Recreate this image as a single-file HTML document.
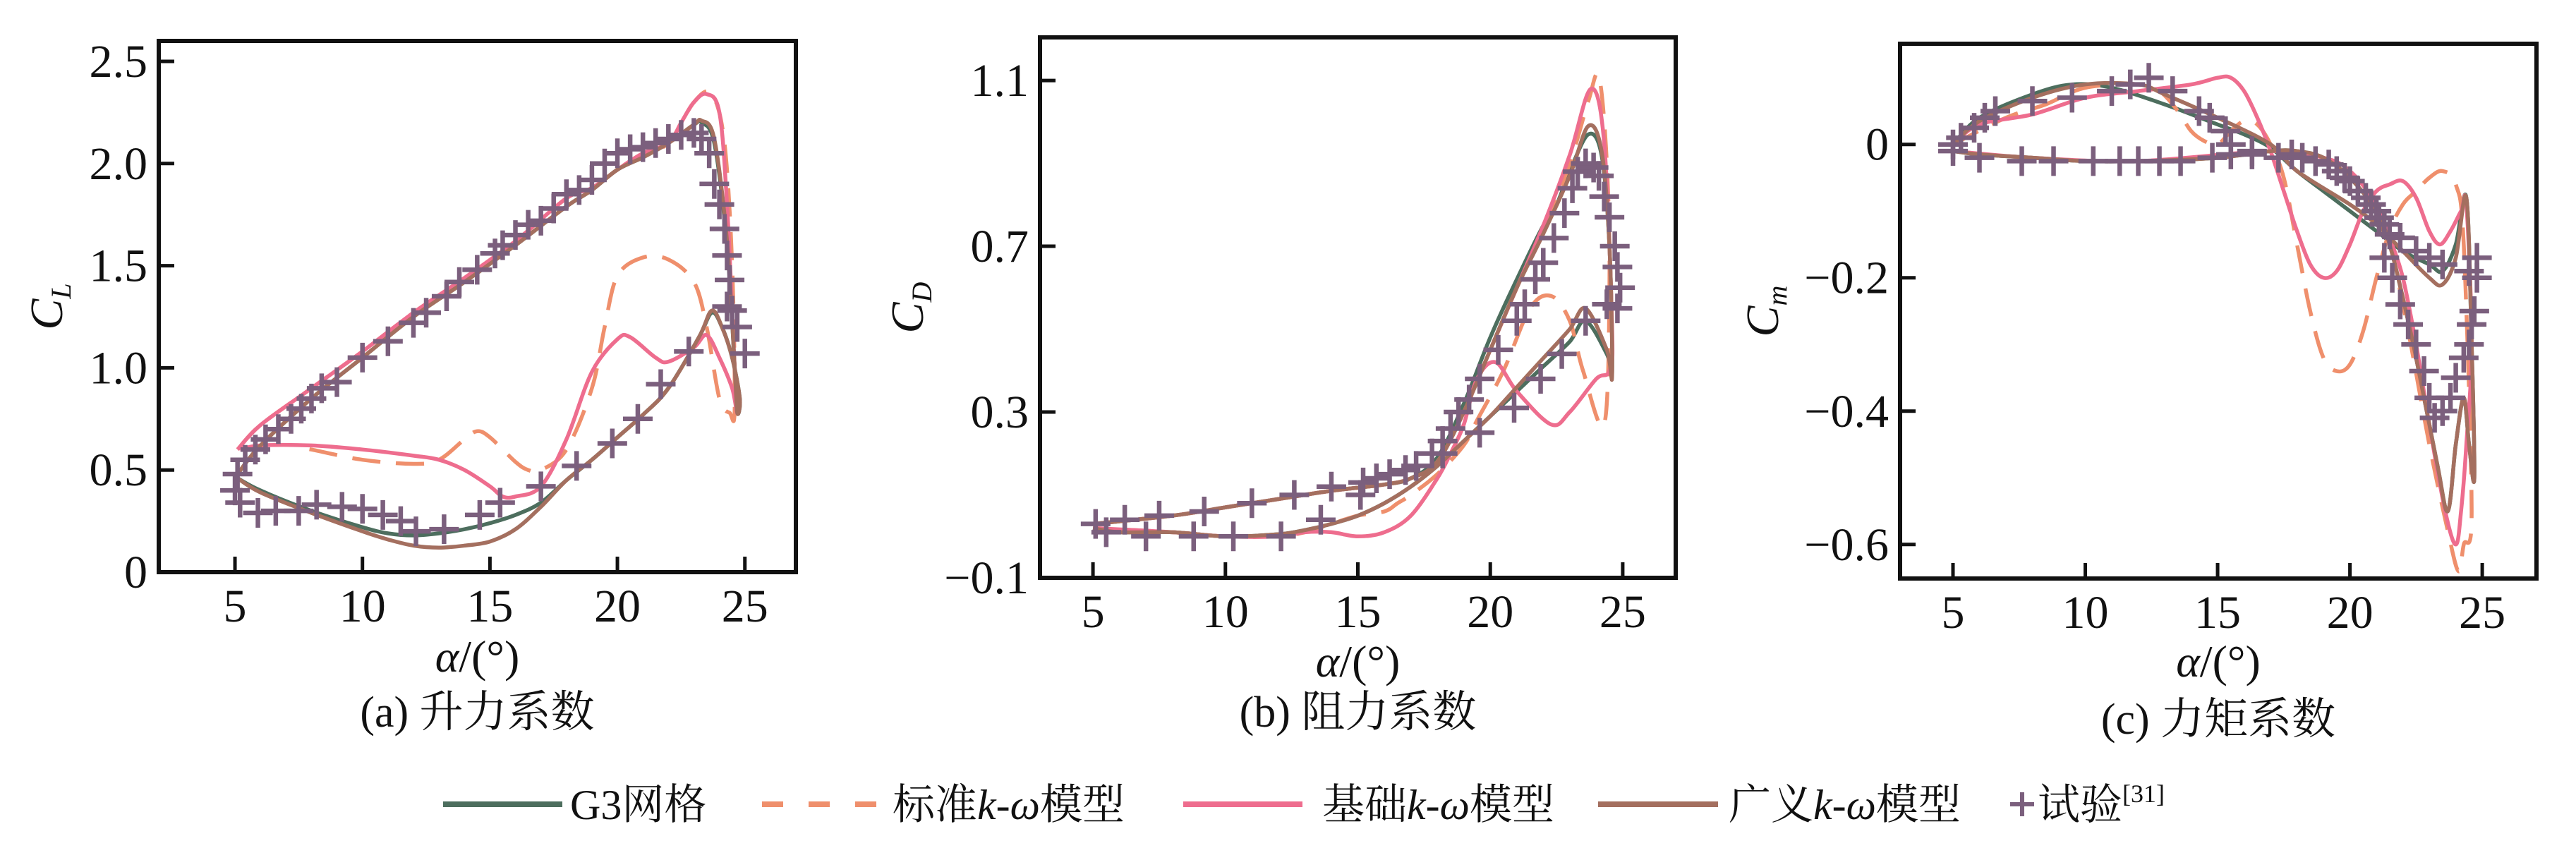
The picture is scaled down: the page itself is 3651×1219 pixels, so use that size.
<!DOCTYPE html>
<html><head><meta charset="utf-8"><style>
html,body{margin:0;padding:0;background:#fff;}
svg{display:block;}
text{font-family:"Liberation Serif","Noto Serif CJK SC","Noto Sans CJK SC",serif;fill:#111;}
</style></head><body>
<svg id="fig" width="3651" height="1219" viewBox="0 0 3651 1219" xmlns="http://www.w3.org/2000/svg"></svg>
<script>
// ---------- Panel (a) lift coefficient ----------
const clG3A=[5.1,6,8,10,12,14,16,18,19,20,21,22,23,23.3,23.8,24.3,24.6,24.7,24.8,24.5,24.1,23.7,23.2,22,21,20,19,18,17,16,15,14,13,12,11,10,8,6,5.1];
const clG3V=[0.48,0.62,0.85,1.05,1.25,1.42,1.6,1.79,1.87,1.97,2.03,2.1,2.19,2.2,2.1,1.6,1.0,0.78,0.85,1.05,1.2,1.27,1.15,0.9,0.77,0.66,0.55,0.45,0.34,0.28,0.24,0.21,0.19,0.18,0.19,0.22,0.3,0.4,0.46];
const clGenA=[5.1,6,8,10,12,14,16,18,19,20,21,22,23,23.3,23.8,24.3,24.6,24.7,24.8,24.5,24.1,23.7,23.2,22,21,20,19,18,17,16,15,14,13,12,11,10,8,6,5.1];
const clGenV=[0.48,0.62,0.85,1.05,1.25,1.42,1.6,1.79,1.87,1.97,2.03,2.1,2.19,2.21,2.12,1.62,1.0,0.78,0.85,1.05,1.2,1.28,1.15,0.9,0.77,0.66,0.55,0.45,0.32,0.21,0.15,0.13,0.12,0.13,0.16,0.2,0.29,0.39,0.46];
const clBasA=[5.1,6,8,10,12,14,16,18,19,20,21,22,22.5,23,23.5,24,24.3,24.6,24.7,24.5,24,23.5,23,22,21.5,20.5,20,19,18,17,16,15.5,15,14,13,12,10,8,6,5.2];
const clBasV=[0.6,0.72,0.9,1.08,1.27,1.44,1.62,1.83,1.88,1.97,2.05,2.1,2.2,2.3,2.34,2.25,1.8,1.0,0.78,0.9,1.05,1.16,1.1,1.03,1.05,1.15,1.14,0.98,0.65,0.42,0.37,0.37,0.42,0.5,0.55,0.57,0.6,0.62,0.62,0.6];
const clStdA=[5.1,6,8,10,12,14,16,18,19,20,21,22,23,23.7,24.2,24.5,24.6,24.4,24,23.5,23,22,21,20,19.5,19,18,17,16.5,16,15,14.5,14,13,12,10,8,7.5];
const clStdV=[0.6,0.72,0.9,1.08,1.27,1.44,1.62,1.83,1.88,1.97,2.05,2.1,2.3,2.34,2.1,1.5,0.8,0.78,0.85,1.2,1.42,1.53,1.54,1.45,1.2,0.9,0.6,0.5,0.5,0.54,0.66,0.69,0.65,0.55,0.53,0.55,0.6,0.61];
const clExpA=[5.1,5.4,5.8,6.2,6.7,7.2,7.6,8.0,8.4,9,10,11,12,12.5,13.3,13.8,14.5,15.2,15.5,16,16.5,17,17.5,18,18.5,19,19.5,20,20.5,21,21.5,22,22.5,23,23.3,23.6,23.8,24,24.2,24.3,24.4,24.5,24.7,25,24.3,22.8,21.7,20.8,19.8,18.4,17,15.4,14.6,13.2,12.1,11.5,10.8,10,9.2,8.2,7.5,6.6,5.9,5.2,5];
const clExpV=[0.48,0.55,0.6,0.65,0.7,0.75,0.8,0.85,0.9,0.93,1.05,1.13,1.22,1.27,1.35,1.42,1.48,1.56,1.6,1.65,1.7,1.72,1.78,1.85,1.87,1.92,2.0,2.05,2.07,2.08,2.1,2.12,2.14,2.15,2.12,2.05,1.9,1.8,1.68,1.55,1.43,1.28,1.2,1.07,1.3,1.08,0.92,0.75,0.63,0.52,0.42,0.34,0.28,0.21,0.2,0.25,0.28,0.31,0.32,0.33,0.3,0.3,0.29,0.34,0.4];
const clYTicks=[0,0.5,1.0,1.5,2.0,2.5];
const clYLabels=["0","0.5","1.0","1.5","2.0","2.5"];
// ---------- Panel (b) drag coefficient ----------
const cdG3A=[5,8,10,12,14,16,17,18,19,20,21,22,22.5,23,23.7,24.2,24.5,24.6,24.4,23.6,23,22,21,20,19,18,17,16,15,14,13,12,10,8,6,5];
const cdG3V=[0.03,0.05,0.07,0.09,0.11,0.125,0.14,0.19,0.32,0.48,0.62,0.75,0.8,0.88,0.97,0.92,0.7,0.4,0.44,0.52,0.47,0.41,0.35,0.29,0.23,0.17,0.12,0.08,0.05,0.03,0.015,0.005,0.0,0.01,0.01,0.02];
const cdGenA=[5,8,10,12,14,16,17,18,19,20,21,22,23,23.7,24.2,24.5,24.6,24.4,23.6,23,22,21,20,19,18,17,16,15,14,13,12,10,8,6,5];
const cdGenV=[0.03,0.05,0.07,0.09,0.11,0.125,0.14,0.18,0.3,0.45,0.6,0.73,0.87,0.99,0.93,0.7,0.39,0.45,0.55,0.5,0.43,0.36,0.29,0.23,0.17,0.12,0.08,0.05,0.03,0.015,0.005,0.0,0.01,0.01,0.02];
const cdBasA=[5,8,10,12,14,16,17,18,19,20,21,22,23,23.8,24.3,24.6,24.5,24,23,22.3,21,20.2,19.5,19,18.5,18,17,16,15,14,13,12,10,8,5];
const cdBasV=[0.03,0.05,0.07,0.09,0.11,0.125,0.14,0.18,0.3,0.45,0.6,0.75,0.92,1.08,0.95,0.5,0.4,0.38,0.3,0.27,0.35,0.42,0.38,0.27,0.2,0.14,0.05,0.01,0.0,0.01,0.01,0.0,0.0,0.01,0.02];
const cdStdA=[5,8,10,12,14,16,17,18,19,20,21,22,23,23.7,24.1,24.4,24.5,24.3,23.5,23,22.3,21.5,20.5,19.5,19,18,17,16.5,16,15,14,13,12,10,8,5];
const cdStdV=[0.03,0.05,0.07,0.09,0.11,0.125,0.14,0.18,0.3,0.45,0.6,0.74,0.9,1.05,1.11,0.9,0.6,0.27,0.4,0.52,0.58,0.55,0.4,0.28,0.22,0.15,0.1,0.08,0.06,0.05,0.03,0.01,0.0,0.0,0.01,0.02];
const cdExpA=[5.1,6.2,7.5,9.2,11,12.6,14,15.2,15.7,16.2,16.8,17.2,17.8,18.2,18.5,18.8,19.2,19.6,20.3,21,21.3,21.7,22,22.4,22.8,23.1,23.3,23.6,23.9,24.1,24.3,24.5,24.7,24.8,24.9,24.8,24.4,23.6,22.7,21.9,20.9,19.6,18.2,15.1,13.6,12.1,10.3,8.8,7,5.5];
const cdExpV=[0.03,0.04,0.05,0.06,0.08,0.1,0.12,0.13,0.14,0.15,0.16,0.17,0.2,0.23,0.26,0.3,0.33,0.38,0.45,0.52,0.56,0.62,0.66,0.72,0.78,0.84,0.88,0.9,0.89,0.87,0.82,0.77,0.7,0.65,0.6,0.55,0.56,0.52,0.44,0.38,0.31,0.25,0.2,0.1,0.04,0.0,0.0,0.0,0.0,0.01];
const cdYTicks=[-0.1,0.3,0.7,1.1];
const cdYLabels=["\u22120.1","0.3","0.7","1.1"];
// ---------- Panel (c) moment coefficient ----------
const cmG3A=[5,6,8,9.5,11,13,15,16,17,18,19,20,21,22,23,23.5,24,24.4,24.6,24.7,24.5,24.3,24,23.7,23.3,22.5,22,21.5,21,20,19,18,17,15,12,10,8,6,5];
const cmG3V=[0,0.04,0.075,0.09,0.085,0.06,0.03,0.015,-0.005,-0.04,-0.07,-0.1,-0.13,-0.16,-0.18,-0.19,-0.15,-0.08,-0.3,-0.5,-0.45,-0.38,-0.45,-0.55,-0.48,-0.32,-0.23,-0.15,-0.1,-0.05,-0.02,-0.01,-0.01,-0.02,-0.025,-0.025,-0.02,-0.015,-0.01];
const cmGenA=[5,6,8,10,12,13,15,17,18,20,21,22,23,23.5,24,24.4,24.6,24.7,24.5,24.3,24,23.7,23.3,22.5,22,21.5,21,20,19,18,17,15,12,10,8,6,5];
const cmGenV=[0,0.035,0.07,0.09,0.09,0.075,0.04,0.0,-0.04,-0.09,-0.12,-0.16,-0.2,-0.21,-0.17,-0.08,-0.3,-0.5,-0.45,-0.38,-0.45,-0.55,-0.48,-0.32,-0.23,-0.15,-0.1,-0.05,-0.02,-0.01,-0.01,-0.02,-0.025,-0.025,-0.02,-0.015,-0.01];
const cmBasA=[5,6,8,10,12,14,15,15.5,16,16.5,17,17.5,18,18.5,19,19.5,20,20.5,21,21.5,22,22.5,23,23.4,23.8,24.2,24.4,24.6,24.4,24.2,24,23.6,23,22.5,22,21.5,21,20,19,17,12,8,5];
const cmBasV=[0,0.03,0.045,0.07,0.08,0.09,0.1,0.1,0.08,0.04,-0.01,-0.07,-0.13,-0.18,-0.2,-0.19,-0.15,-0.1,-0.07,-0.06,-0.055,-0.08,-0.13,-0.15,-0.13,-0.1,-0.09,-0.3,-0.45,-0.55,-0.6,-0.55,-0.42,-0.3,-0.2,-0.14,-0.09,-0.04,-0.02,-0.01,-0.025,-0.02,-0.01];
const cmStdA=[5,7,8.5,10,12,12.8,13.5,14,14.5,15,15.5,16,16.5,17,17.5,18,18.5,19,19.5,20,20.5,21,21.5,22,22.5,23,23.5,24,24.3,24.6,24.3,24.1,23.7,23,22.3,21.8];
const cmStdV=[0,0.04,0.06,0.085,0.09,0.08,0.05,0.02,0.005,0.0,0.02,0.035,0.03,0.0,-0.05,-0.15,-0.25,-0.32,-0.34,-0.33,-0.28,-0.2,-0.13,-0.09,-0.07,-0.05,-0.04,-0.06,-0.15,-0.55,-0.6,-0.64,-0.58,-0.45,-0.3,-0.2];
const cmExpA=[5,5.3,5.8,6.2,6.6,8,9.5,11,11.7,12.4,13.3,14.3,14.7,15.3,15.5,16.3,17.3,17.8,18.2,18.7,19.2,19.5,19.8,20,20.3,20.6,20.8,21,21.1,21.3,21.5,21.9,22.5,23,23.5,24.5,24.8,24.8,24.7,24.6,24.5,24.3,24,23.8,23.5,23.2,23,22.8,22.5,22.2,21.9,21.6,21.3,5,6,7.6,8.8,10.3,11.3,12,12.8,13.6,14.8,15.5,16.3];
const cmExpV=[0,0.01,0.025,0.04,0.05,0.065,0.07,0.08,0.09,0.1,0.08,0.05,0.04,0.02,0.0,-0.01,-0.02,-0.015,-0.02,-0.025,-0.03,-0.04,-0.05,-0.055,-0.07,-0.08,-0.09,-0.1,-0.11,-0.12,-0.135,-0.14,-0.16,-0.17,-0.18,-0.19,-0.17,-0.2,-0.25,-0.27,-0.3,-0.32,-0.35,-0.38,-0.4,-0.41,-0.38,-0.34,-0.3,-0.27,-0.24,-0.2,-0.17,-0.01,-0.02,-0.025,-0.025,-0.025,-0.025,-0.025,-0.025,-0.025,-0.02,-0.015,-0.015];
const cmYTicks=[-0.6,-0.4,-0.2,0];
const cmYLabels=["\u22120.6","\u22120.4","\u22120.2","0"];
const xTicks=[5,10,15,20,25];
const xLabels=["5","10","15","20","25"];

const NS="http://www.w3.org/2000/svg";
const fig=document.getElementById('fig');
const COL={g3:'#4d6e5e',std:'#ef8f6c',bas:'#ee6d8e',gen:'#a46f5f',exp:'#7b5f7d'};
function mk(tag,attrs,parent){const e=document.createElementNS(NS,tag);for(const k in attrs)e.setAttribute(k,attrs[k]);(parent||fig).appendChild(e);return e;}
function smoothPath(pts){
  let d='M'+pts[0][0].toFixed(1)+','+pts[0][1].toFixed(1);
  for(let i=0;i<pts.length-1;i++){
    const p0=pts[Math.max(0,i-1)],p1=pts[i],p2=pts[i+1],p3=pts[Math.min(pts.length-1,i+2)];
    const c1x=p1[0]+(p2[0]-p0[0])/6,c1y=p1[1]+(p2[1]-p0[1])/6;
    const c2x=p2[0]-(p3[0]-p1[0])/6,c2y=p2[1]-(p3[1]-p1[1])/6;
    d+=' C'+c1x.toFixed(1)+','+c1y.toFixed(1)+' '+c2x.toFixed(1)+','+c2y.toFixed(1)+' '+p2[0].toFixed(1)+','+p2[1].toFixed(1);
  }
  return d;
}
function panel(cfg){
  const g=mk('g',{});
  
  
  const sx=v=>cfg.L+(v-cfg.xd[0])/(cfg.xd[1]-cfg.xd[0])*(cfg.R-cfg.L);
  const sy=v=>cfg.B-(v-cfg.yd[0])/(cfg.yd[1]-cfg.yd[0])*(cfg.B-cfg.T);
  const plot=mk('g',{},g);
  
  
  cfg.series.forEach(s=>{
    const pts=s.a.map((a,i)=>[sx(a),sy(s.v[i])]);
    const p=mk('path',{d:smoothPath(pts),fill:'none',stroke:COL[s.k],'stroke-width':5.5,'stroke-linejoin':'round'},plot);
    if(s.k==='std')p.setAttribute('stroke-dasharray','40 22');
    
    
  });
  const eg=mk('g',{},plot);
  
  
  cfg.ea.forEach((a,i)=>{
    const x=sx(a),y=sy(cfg.ev[i]);
    const m=mk('path',{d:`M${x-21},${y}H${x+21}M${x},${y-21}V${y+21}`,stroke:COL.exp,'stroke-width':6.5,fill:'none'},eg);
    
    
  });
  const box=mk('rect',{x:cfg.L,y:cfg.T,width:cfg.R-cfg.L,height:cfg.B-cfg.T,fill:'none',stroke:'#111','stroke-width':6},g);
  
  
  xTicks.forEach((t,i)=>{
    const x=sx(t);
    const tk=mk('line',{x1:x,x2:x,y1:cfg.B,y2:cfg.B-22,stroke:'#111','stroke-width':5},g);
    
    
    const tl=mk('text',{x:x,y:cfg.B+70,'font-size':66,'text-anchor':'middle'},g);
    tl.textContent=xLabels[i];
    
    
  });
  cfg.yt.forEach((t,i)=>{
    const y=sy(t);
    const tk=mk('line',{x1:cfg.L,x2:cfg.L+22,y1:y,y2:y,stroke:'#111','stroke-width':5},g);
    
    
    const tl=mk('text',{x:cfg.L-16,y:y+22,'font-size':66,'text-anchor':'end'},g);
    tl.textContent=cfg.yl[i];
    
    
  });
  const xt=mk('text',{x:(cfg.L+cfg.R)/2,y:cfg.xlY,'font-size':64,'text-anchor':'middle'},g);
  xt.innerHTML='<tspan font-style="italic">α</tspan>/(°)';
  
  
  const yt=mk('text',{x:0,y:0,'font-size':66,'text-anchor':'middle',transform:`translate(${cfg.ylX},${(cfg.T+cfg.B)/2}) rotate(-90)`},g);
  yt.innerHTML='<tspan font-style="italic">C</tspan><tspan font-style="italic" font-size="40" dy="12">'+cfg.ysub+'</tspan>';
  
  
  const cap=mk('text',{x:(cfg.L+cfg.R)/2,y:cfg.capY,'font-size':62,'text-anchor':'middle'},g);
  cap.textContent=cfg.cap;
  
  
}
panel({name:'lift-panel',L:225,R:1128,T:58,B:811,xd:[2.01,27.0],yd:[0,2.6],yt:clYTicks,yl:clYLabels,ysub:'L',ylX:88,xlY:952,capY:1030,cap:'(a) 升力系数',
  series:[{k:'g3',n:'g3',a:clG3A,v:clG3V},{k:'std',n:'standard',a:clStdA,v:clStdV},{k:'bas',n:'basic',a:clBasA,v:clBasV},{k:'gen',n:'generalized',a:clGenA,v:clGenV}],ea:clExpA,ev:clExpV});
panel({name:'drag-panel',L:1474,R:2375,T:53,B:819,xd:[3.0,27.0],yd:[-0.1,1.204],yt:cdYTicks,yl:cdYLabels,ysub:'D',ylX:1308,xlY:959,capY:1030,cap:'(b) 阻力系数',
  series:[{k:'g3',n:'g3',a:cdG3A,v:cdG3V},{k:'std',n:'standard',a:cdStdA,v:cdStdV},{k:'bas',n:'basic',a:cdBasA,v:cdBasV},{k:'gen',n:'generalized',a:cdGenA,v:cdGenV}],ea:cdExpA,ev:cdExpV});
panel({name:'moment-panel',L:2693,R:3595,T:62,B:820,xd:[3.0,27.05],yd:[-0.651,0.151],yt:cmYTicks,yl:cmYLabels,ysub:'m',ylX:2520,xlY:959,capY:1040,cap:'(c) 力矩系数',
  series:[{k:'g3',n:'g3',a:cmG3A,v:cmG3V},{k:'std',n:'standard',a:cmStdA,v:cmStdV},{k:'bas',n:'basic',a:cmBasA,v:cmBasV},{k:'gen',n:'generalized',a:cmGenA,v:cmGenV}],ea:cmExpA,ev:cmExpV});
</script>
<svg style="position:absolute;left:0;top:0" width="3651" height="1219">
  <g>
    <line x1="628" x2="797" y1="1140" y2="1140" stroke="#4d6e5e" stroke-width="8"/>
    <text x="808" y="1161" font-size="60" font-family="Liberation Serif, Noto Serif CJK SC, serif">G3网格</text>
  </g>
  <g>
    <line x1="1080" x2="1246" y1="1140" y2="1140" stroke="#ef8f6c" stroke-width="8" stroke-dasharray="30 36"/>
    <text x="1265" y="1161" font-size="60" font-family="Liberation Serif, Noto Serif CJK SC, serif">标准<tspan font-style="italic">k</tspan>-<tspan font-style="italic">ω</tspan>模型</text>
  </g>
  <g>
    <line x1="1677" x2="1846" y1="1140" y2="1140" stroke="#ee6d8e" stroke-width="8"/>
    <text x="1874" y="1161" font-size="60" font-family="Liberation Serif, Noto Serif CJK SC, serif">基础<tspan font-style="italic">k</tspan>-<tspan font-style="italic">ω</tspan>模型</text>
  </g>
  <g>
    <line x1="2265" x2="2435" y1="1140" y2="1140" stroke="#a46f5f" stroke-width="8"/>
    <text x="2450" y="1161" font-size="60" font-family="Liberation Serif, Noto Serif CJK SC, serif">广义<tspan font-style="italic">k</tspan>-<tspan font-style="italic">ω</tspan>模型</text>
  </g>
  <g>
    <path d="M2849,1140H2883M2866,1123V1157" stroke="#7b5f7d" stroke-width="6"/>
    <text x="2888" y="1161" font-size="60" font-family="Liberation Serif, Noto Serif CJK SC, serif">试验<tspan font-size="36" dy="-24">[31]</tspan></text>
  </g>
</svg>
</body></html>
